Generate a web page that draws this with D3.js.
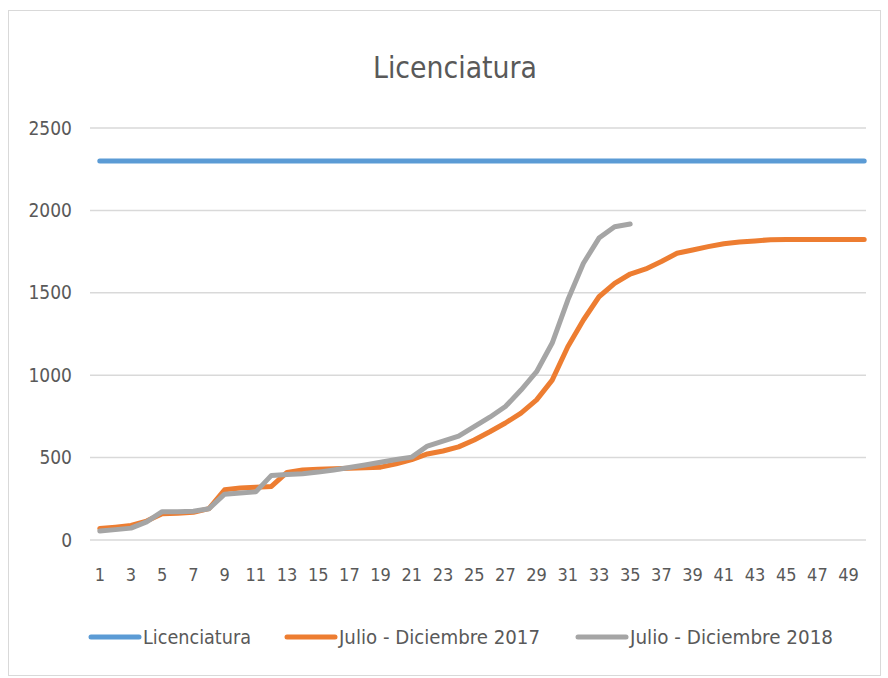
<!DOCTYPE html>
<html>
<head>
<meta charset="utf-8">
<script src="https://cdn.jsdelivr.net/npm/d3@7"></script>
<style>
  body { margin: 0; background: #fff; }
  text { font-family: "DejaVu Sans Condensed", "DejaVu Sans", sans-serif; font-stretch: condensed; fill: #595959; }
</style>
</head>
<body>
<div id="chart"></div>
<script>
const days = d3.range(1, 51);
const target = 2300;
const jd2017 = [70, 78, 88, 115, 160, 162, 168, 190, 305, 315, 320, 325, 410, 425, 430, 432, 435, 438, 442, 462,
  488, 522, 540, 565, 607, 657, 710, 770, 850, 970, 1173, 1335, 1476, 1557, 1614, 1645, 1690, 1740, 1760, 1780,
  1798, 1808, 1815, 1822, 1824, 1824, 1824, 1824, 1824, 1824];
const jd2018 = [55, 63, 72, 110, 172, 172, 175, 190, 278, 285, 292, 392, 398, 402, 412, 425, 440, 455, 472, 488,
  503, 570, 600, 630, 688, 745, 810, 910, 1021, 1195, 1456, 1679, 1832, 1901, 1917];
const series = [
  { name: "Licenciatura", color: "#5b9bd5", values: days.map(() => target) },
  { name: "Julio - Diciembre 2017", color: "#ed7d31", values: jd2017 },
  { name: "Julio - Diciembre 2018", color: "#a5a5a5", values: jd2018 }
];
const yTicks = [0, 500, 1000, 1500, 2000, 2500];

const width = 888, height = 678;
const plot = { left: 92, right: 872, top: 128, bottom: 540 };

const svg = d3.select("#chart").append("svg")
  .attr("width", width).attr("height", height);

svg.append("rect")
  .attr("x", 8.5).attr("y", 10.5).attr("width", 872).attr("height", 665)
  .attr("fill", "#fff").attr("stroke", "#d9d9d9");

svg.append("text")
  .attr("x", 455).attr("y", 78)
  .attr("text-anchor", "middle")
  .attr("font-size", 30)
  .attr("textLength", 164)
  .attr("lengthAdjust", "spacingAndGlyphs")
  .text("Licenciatura");

const x = d3.scaleBand().domain(days).range([plot.left, plot.right]);
const y = d3.scaleLinear().domain([0, 2500]).range([plot.bottom, plot.top]);

// gridlines
svg.append("g")
  .selectAll("line")
  .data(yTicks)
  .enter()
  .append("line")
  .attr("x1", plot.left - 2).attr("x2", plot.right - 6)
  .attr("y1", (d) => y(d)).attr("y2", (d) => y(d))
  .attr("stroke", "#d9d9d9").attr("stroke-width", 1.5);

// y axis labels
const yAxis = svg.append("g")
  .attr("transform", `translate(${plot.left - 20},0)`)
  .call(d3.axisLeft(y).tickValues(yTicks).tickFormat(d3.format("d")).tickSize(0).tickPadding(0));
yAxis.select(".domain").remove();
yAxis.selectAll("text")
  .attr("font-size", 19)
  .attr("font-family", null)
  .attr("fill", "#595959");

// x axis labels
const xAxis = svg.append("g")
  .attr("transform", `translate(0,${plot.bottom + 28})`)
  .call(d3.axisBottom(x).tickValues(days.filter((d) => d % 2 === 1)).tickSize(0).tickPadding(0));
xAxis.select(".domain").remove();
xAxis.selectAll("text")
  .attr("font-size", 18)
  .attr("font-family", null)
  .attr("fill", "#595959");

const line = d3.line()
  .x((d, i) => x(days[i]) + x.bandwidth() / 2)
  .y((d) => y(d));

svg.append("g")
  .selectAll("path")
  .data(series)
  .enter()
  .append("path")
  .attr("d", (d) => line(d.values))
  .attr("fill", "none")
  .attr("stroke", (d) => d.color)
  .attr("stroke-width", 5)
  .attr("stroke-linecap", "round")
  .attr("stroke-linejoin", "round");

// legend
const legendX = [91, 287, 578];
const legendW = [108, 201, 203];
const legend = svg.append("g")
  .selectAll("g")
  .data(series)
  .enter()
  .append("g")
  .attr("transform", (d, i) => `translate(${legendX[i]},637)`);
legend.append("line")
  .attr("x1", 0).attr("x2", 48)
  .attr("stroke", (d) => d.color)
  .attr("stroke-width", 5)
  .attr("stroke-linecap", "round");
legend.append("text")
  .attr("x", 52).attr("dy", "0.35em")
  .attr("font-size", 20)
  .attr("textLength", (d, i) => legendW[i])
  .attr("lengthAdjust", "spacingAndGlyphs")
  .text((d) => d.name);
</script>
</body>
</html>
